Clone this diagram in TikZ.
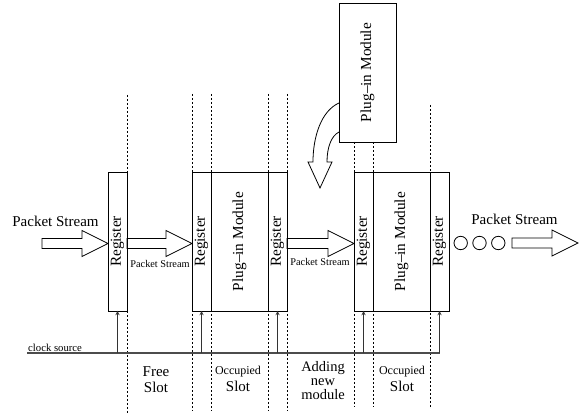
\documentclass[tikz,border=0pt]{standalone}
\usepackage{fontspec}
\setmainfont{Liberation Serif}
\usetikzlibrary{calc}
\tikzset{
  regbox/.style={draw, line width=0.8pt, minimum width=19pt, minimum height=139pt,
    inner sep=0pt, outer sep=0pt, font=\fontsize{15.3}{16}\selectfont},
  modbox/.style={regbox, minimum width=57pt},
  bigarrow/.style={draw, line width=0.8pt, line join=miter},
  slotline/.style={dash pattern=on 2pt off 2pt, line width=0.7pt},
  clockline/.style={black!70, line width=1.1pt},
  bigtext/.style={font=\fontsize{15}{16}\selectfont, align=center},
  smalltext/.style={font=\fontsize{10.3}{12}\selectfont, inner sep=1pt}
}
% hollow block arrow from tail #1 to tip #2
\newcommand{\hollowarrow}[2]{%
  \draw[bigarrow] ($#1+(0,-5)$) -- ($#2+(-26,-5)$) -- ($#2+(-26,-13)$) -- #2
    -- ($#2+(-26,13)$) -- ($#2+(-26,5)$) -- ($#1+(0,5)$) -- cycle;}

\begin{document}
\begin{tikzpicture}[x=1pt, y=-1pt, >=stealth]
  \useasboundingbox (0,0) rectangle (582,414);
  % slot boundaries
  \draw[slotline] (127,95) -- (127,413);
  \foreach \x in {192,211,268,287} \draw[slotline] (\x,94) -- (\x,411);
  \foreach \x in {354,373} \draw[slotline] (\x,142) -- (\x,407);
  \draw[slotline] (430,105) -- (430,407);
  % registers and modules
  \node[regbox] (reg1) at (117.5,241.5) {\rotatebox{90}{Register}};
  \node[regbox] (r2a) at (201.5,241.5) {\rotatebox{90}{Register}};
  \node[modbox] (m2) at (239.5,241.5) {\rotatebox{90}{Plug--in Module}};
  \node[regbox] (r2b) at (277.5,241.5) {\rotatebox{90}{Register}};
  \node[regbox] (r4a) at (363.5,241.5) {\rotatebox{90}{Register}};
  \node[modbox] (m4) at (401.5,241.5) {\rotatebox{90}{Plug--in Module}};
  \node[regbox] (r4b) at (439.5,241.5) {\rotatebox{90}{Register}};
  \node[modbox] (topmod) at (367.5,72.5) {\rotatebox{90}{Plug--in Module}};
  % packet stream
  \coordinate (intail) at (42,243.5);
  \coordinate (intip) at ([yshift=-2pt]reg1.west);
  \coordinate (a2tail) at ([yshift=-2pt]reg1.east);
  \coordinate (a2tip) at ([yshift=-2pt]r2a.west);
  \coordinate (a3tail) at ([yshift=-2pt]r2b.east);
  \coordinate (a3tip) at ([yshift=-2pt]r4a.west);
  \coordinate (outtail) at (512,243);
  \coordinate (outtip) at (578,243);
  \hollowarrow{(intail)}{(intip)}
  \hollowarrow{(a2tail)}{(a2tip)}
  \hollowarrow{(a3tail)}{(a3tip)}
  \hollowarrow{(outtail)}{(outtip)}
  \node[bigtext] (inlabel) at (55.5,221) {Packet Stream};
  \node[smalltext] (a2label) at (160,264) {Packet Stream};
  \node[smalltext] (a3label) at (320,262) {Packet Stream};
  \node[bigtext] (outlabel) at (514.5,219) {Packet Stream};
  \foreach \c in {460.7,479.5,498.3} \draw[line width=0.8pt] (\c,243) circle[radius=6.7pt];
  % inserting the new module
  \coordinate (droptip) at (320,188);
  \draw[bigarrow] ($(topmod.west)+(0,30.5)$) .. controls +(-18,8) and +(0,-25) .. (313,162)
    -- (308,162) -- (droptip) -- (332,162) -- (327,162)
    .. controls +(0,-14) and +(-8,4) .. ($(topmod.west)+(0,59.5)$);
  % clock
  \coordinate (clk) at (27,353);
  \coordinate (clkend) at (440,353);
  \draw[clockline] (clk) -- (clkend);
  \node[smalltext, font=\fontsize{10.7}{12}\selectfont, anchor=south west] (clklabel) at (clk) {clock source};
  \foreach \r in {reg1,r2a,r2b,r4a,r4b}
    \draw[black!80, line width=0.9pt, ->] (\r.south |- clk) -- (\r.south);
  % slot labels
  \node[bigtext] (free) at (156,380) {Free\\Slot};
  \node[bigtext, font=\fontsize{15}{17}\selectfont] (occ2) at (238,378.5)
    {{\fontsize{12}{13}\selectfont Occupied}\\Slot};
  \node[bigtext, font=\fontsize{14.5}{14}\selectfont] (adding) at (323,381) {Adding\\new\\module};
  \node[bigtext, font=\fontsize{15}{17}\selectfont] (occ4) at (402,378.5)
    {{\fontsize{12}{13}\selectfont Occupied}\\Slot};
\end{tikzpicture}
\end{document}
